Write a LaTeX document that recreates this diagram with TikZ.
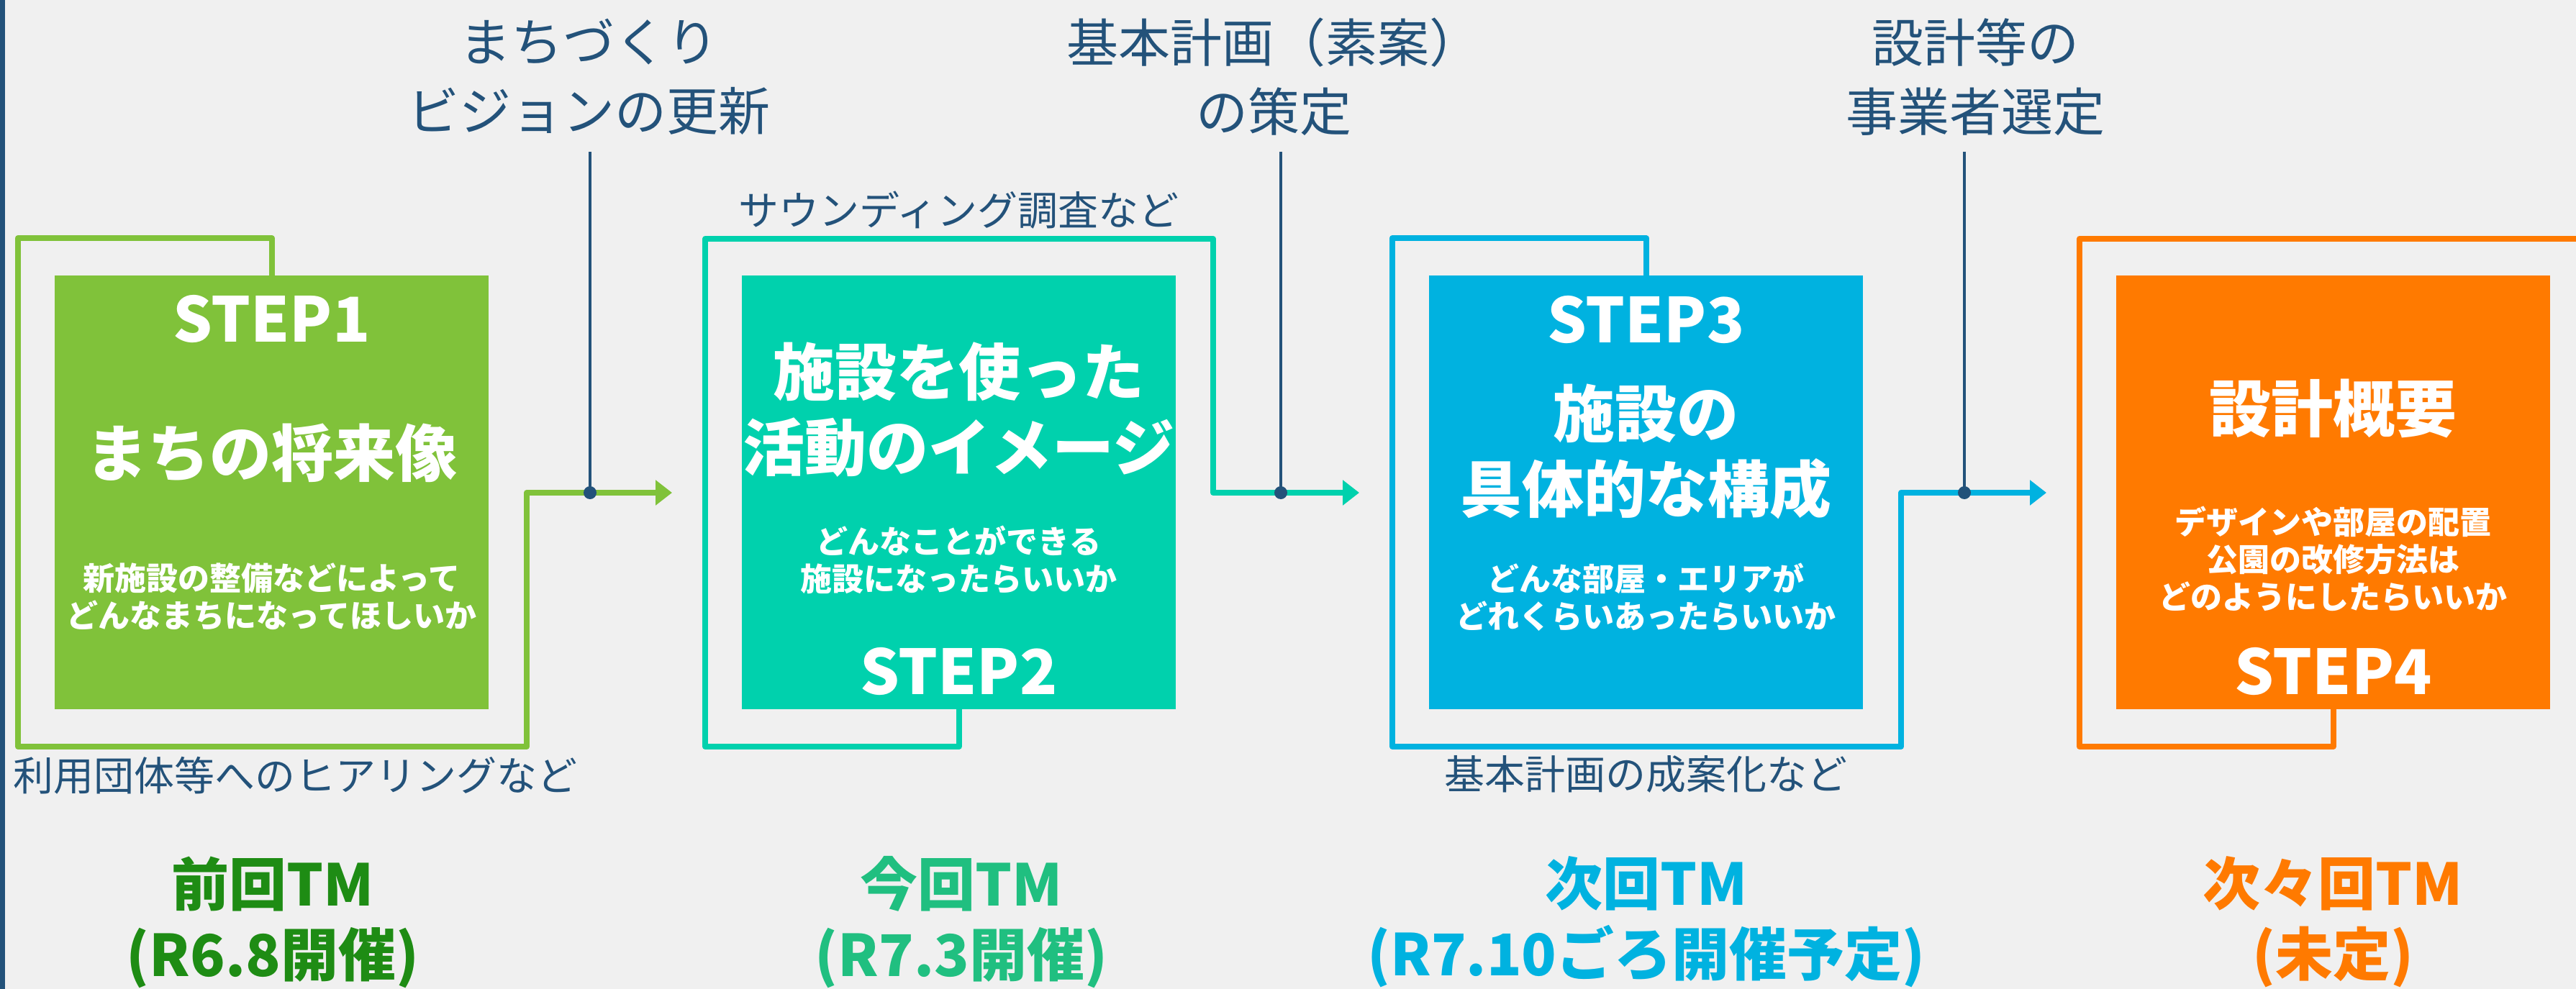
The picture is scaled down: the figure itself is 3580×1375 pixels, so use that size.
\documentclass[tikz,border=0pt]{standalone}
\usepackage{fontspec}
\newfontfamily\jp{Noto Sans CJK JP}
\usetikzlibrary{arrows.meta}
\definecolor{bg}{HTML}{F0F0F0}
\definecolor{dk}{HTML}{23527A}
\definecolor{cA}{HTML}{80C23A}
\definecolor{cB}{HTML}{00D1AD}
\definecolor{cC}{HTML}{00B2E0}
\definecolor{cD}{HTML}{FF7A00}
\definecolor{tA}{HTML}{1E8C14}
\definecolor{tB}{HTML}{20BF80}
\begin{document}
\begin{tikzpicture}[x=0.5pt,y=-0.5pt,
  stepbox/.style={draw=none, minimum width=301.5pt, minimum height=301.5pt, inner sep=0},
  flow/.style={line width=4pt, line join=round, -{Triangle[length=11.5pt,width=17pt]}},
  flowend/.style={line width=4pt, line join=round},
  vline/.style={draw=dk, line width=2pt},
  dot/.style={circle, fill=dk, inner sep=0, minimum size=9pt},
  wt/.style={text=white, inner sep=0, align=center},
  big/.style={wt, font=\jp\bfseries\fontsize{43}{52.5}\selectfont},
  steplbl/.style={wt, font=\jp\bfseries\fontsize{43}{50}\selectfont},
  sub/.style={wt, font=\jp\bfseries\fontsize{22}{26}\selectfont},
  toplbl/.style={text=dk, inner sep=0, align=center, font=\jp\fontsize{36}{48}\selectfont},
  side/.style={text=dk, inner sep=0, font=\jp\fontsize{28}{34}\selectfont},
  tm/.style={inner sep=0, align=center, font=\jp\bfseries\fontsize{40}{49}\selectfont}
]
\fill[bg] (0,0) rectangle (3580,1375);
\useasboundingbox (0,0) rectangle (3580,1375);
\clip (0,0) rectangle (3580,1375);
\fill[dk] (0,0) rectangle (7,1375);

% boxes
\node[stepbox, fill=cA] (b1) at (377.5,684.5) {};
\node[stepbox, fill=cB] (b2) at (1332.5,684.5) {};
\node[stepbox, fill=cC] (b3) at (2287.5,684.5) {};
\node[stepbox, fill=cD] (b4) at (3242.5,684.5) {};

% coordinates
\coordinate (a1) at (934,685);
\coordinate (a2) at (1889,685);
\coordinate (a3) at (2844,685);
\coordinate (e4) at (3600,332);
\coordinate (j1) at (820,685);
\coordinate (j2) at (1780,685);
\coordinate (j3) at (2730,685);
\coordinate (v1) at (820,211);
\coordinate (v2) at (1780,211);
\coordinate (v3) at (2730,211);

% outlines
\draw[flow, cA] (b1.north) -- (377.5,331) -- (25,331) -- (25,1038) -- (732,1038) -- (732,685) -- (a1);
\draw[flow, cB] (b2.south) -- (1332.5,1038) -- (980,1038) -- (980,332) -- (1686,332) -- (1686,685) -- (a2);
\draw[flow, cC] (b3.north) -- (2287.5,331) -- (1935,331) -- (1935,1038) -- (2642,1038) -- (2642,685) -- (a3);
\draw[flowend, cD] (b4.south) -- (3242.5,1038) -- (2890,1038) -- (2890,332) -- (e4);

% milestone lines
\draw[vline] (v1) -- (j1);
\draw[vline] (v2) -- (j2);
\draw[vline] (v3) -- (j3);
\node[dot] (d1) at (j1) {};
\node[dot] (d2) at (j2) {};
\node[dot] (d3) at (j3) {};

% top labels
\node[toplbl] (t1) at (818,107) {まちづくり\\ビジョンの更新};
\node[toplbl] (t2) at (1770,107) {基本計画（素案）\\の策定};
\node[toplbl] (t3) at (2745,107) {設計等の\\事業者選定};

% box texts
\node[steplbl] (s1) at (377.5,444) {STEP1};
\node[big] (m1) at (377.5,630) {まちの将来像};
\node[sub] (u1) at (377.5,830) {新施設の整備などによって\\どんなまちになってほしいか};

\node[big] (m2) at (1332.5,570) {施設を使った\\活動のイメージ};
\node[sub] (u2) at (1332.5,778) {どんなことができる\\施設になったらいいか};
\node[steplbl] (s2) at (1332.5,933) {STEP2};

\node[steplbl] (s3) at (2287.5,445) {STEP3};
\node[big] (m3) at (2287.5,628) {施設の\\具体的な構成};
\node[sub] (u3) at (2287.5,830) {どんな部屋・エリアが\\どれくらいあったらいいか};

\node[big] (m4) at (3242.5,568) {設計概要};
\node[sub] (u4) at (3242.5,777) {デザインや部屋の配置\\公園の改修方法は\\どのようにしたらいいか};
\node[steplbl] (s4) at (3242.5,933) {STEP4};

% side labels
\node[side, anchor=west] (n1) at (18,1078) {利用団体等へのヒアリングなど};
\node[side] (n2) at (1332.5,292) {サウンディング調査など};
\node[side] (n3) at (2287.5,1076) {基本計画の成案化など};

% bottom labels
\node[tm, text=tA] (p1) at (379,1282) {前回TM\\(R6.8開催)};
\node[tm, text=tB] (p2) at (1336,1282) {今回TM\\(R7.3開催)};
\node[tm, text=cC] (p3) at (2288,1282) {次回TM\\(R7.10ごろ開催予定)};
\node[tm, text=cD] (p4) at (3242,1282) {次々回TM\\(未定)};
\end{tikzpicture}
\end{document}
